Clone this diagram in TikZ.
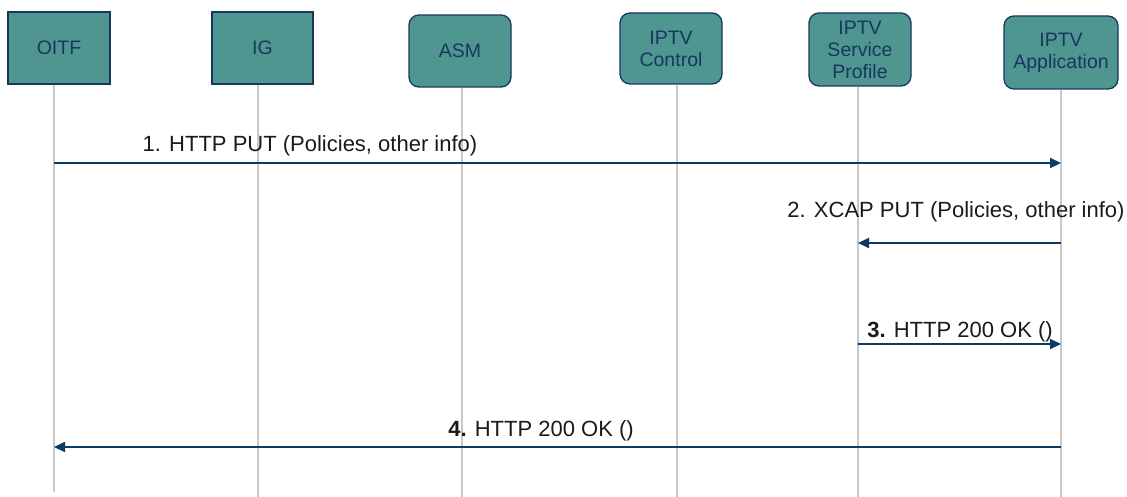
\documentclass[tikz,border=0pt]{standalone}
\usepackage{fontspec}
\setmainfont{Liberation Sans}
\usetikzlibrary{arrows.meta}
\definecolor{boxfill}{HTML}{4F9690}
\definecolor{boxline}{HTML}{17375E}
\definecolor{arrowc}{HTML}{0B3A62}
\definecolor{lifec}{HTML}{C8C8C8}
\definecolor{labc}{HTML}{1A1A1A}
\begin{document}
\begin{tikzpicture}[x=1pt,y=-1pt,
  entity/.style={draw=boxline, line width=1.3pt, fill=boxfill, text=boxline,
    font=\fontsize{19.5}{22}\selectfont, align=center, inner sep=0pt,
    minimum width=102pt, minimum height=72pt},
  roundent/.style={entity, rounded corners=10pt},
  life/.style={draw=lifec, line width=1.4pt},
  msg/.style={draw=arrowc, line width=2pt, -{Triangle[length=11pt,width=10pt]}},
  msglabel/.style={font=\fontsize{22}{26}\selectfont, text=labc, anchor=base, inner sep=0pt}]
\useasboundingbox (0,0) rectangle (1127,497);
% entities
\node[entity] (oitf) at (59,48) {OITF};
\node[entity, minimum width=101pt] (ig) at (262.5,48) {IG};
\node[roundent] (asm) at (460,51) {ASM};
\node[roundent, minimum height=71pt] (ctl) at (671,48.5) {IPTV\\Control};
\node[roundent, minimum height=73pt] (sp) at (860,49.5) {IPTV\\Service\\Profile};
\node[roundent, minimum width=114pt, minimum height=73pt] (app) at (1061,52.5) {IPTV\\Application};
% lifeline ends
\coordinate (oitfB) at (54,492);
\coordinate (igB) at (258,497);
\coordinate (asmB) at (462,497);
\coordinate (ctlB) at (677,497);
\coordinate (spB) at (858,497);
\coordinate (appB) at (1061,497);
\draw[life] (oitf.south -| oitfB) -- (oitfB);
\draw[life] (ig.south -| igB) -- (igB);
\draw[life] (asm.south -| asmB) -- (asmB);
\draw[life] (ctl.south -| ctlB) -- (ctlB);
\draw[life] (sp.south -| spB) -- (spB);
\draw[life] (app.south -| appB) -- (appB);
% message end points
\coordinate (m1s) at (54,163);   \coordinate (m1e) at (1061,163);
\coordinate (m2s) at (1061,243); \coordinate (m2e) at (858,243);
\coordinate (m3s) at (858,344);  \coordinate (m3e) at (1061,344);
\coordinate (m4s) at (1061,447); \coordinate (m4e) at (54,447);
\draw[msg] (m1s) -- (m1e);
\draw[msg] (m2s) -- (m2e);
\draw[msg] (m3s) -- (m3e);
\draw[msg] (m4s) -- (m4e);
% labels
\node[msglabel] (l1) at (310,152) {1. HTTP PUT (Policies, other info)};
\node[msglabel] (l2) at (956,218) {2. XCAP PUT (Policies, other info)};
\node[msglabel] (l3) at (960,337) {\textbf{3.} HTTP 200 OK ()};
\node[msglabel] (l4) at (541,436) {\textbf{4.} HTTP 200 OK ()};
\end{tikzpicture}
\end{document}
